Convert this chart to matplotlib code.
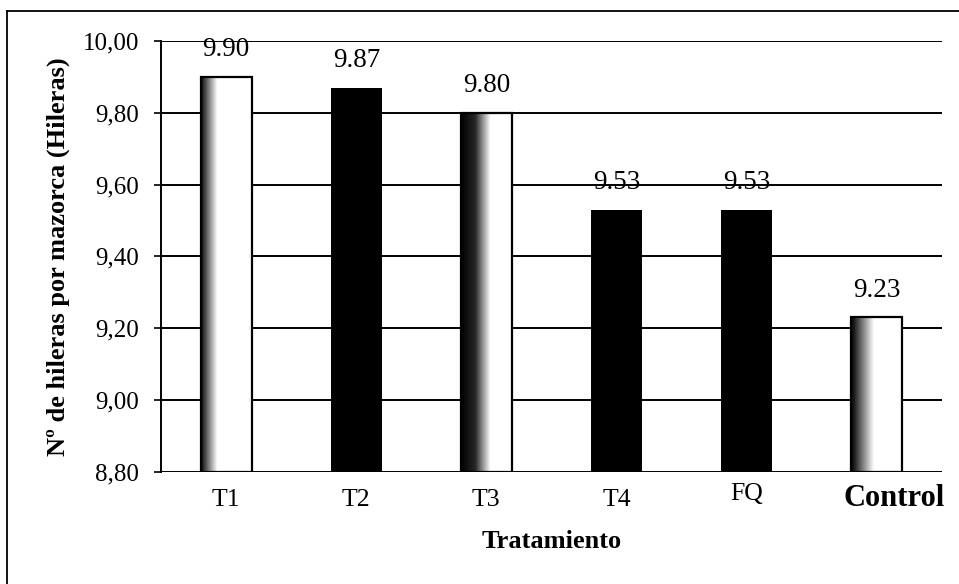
"""Nº de hileras por mazorca por tratamiento (bar chart, scanned-report look)."""

import matplotlib

matplotlib.use("Agg")
import matplotlib.pyplot as plt  # noqa: E402
import matplotlib.transforms as mtransforms  # noqa: E402
import numpy as np  # noqa: E402
from matplotlib.lines import Line2D  # noqa: E402

treatments = ["T1", "T2", "T3", "T4", "FQ", "Control"]
rows_per_ear = [9.90, 9.87, 9.80, 9.53, 9.53, 9.23]
value_labels = ["9.90", "9.87", "9.80", "9.53", "9.53", "9.23"]
y_ticks = [8.80, 9.00, 9.20, 9.40, 9.60, 9.80, 10.00]
y_tick_labels = ["8,80", "9,00", "9,20", "9,40", "9,60", "9,80", "10,00"]

# fill style per bar: None = solid black, otherwise (dark_until, white_from) fractions of width
_FILLS = [(0.04, 0.32), None, (0.28, 0.58), None, None, (0.08, 0.45)]

plt.rcParams["font.family"] = ["Liberation Serif", "DejaVu Serif"]

fig = plt.figure(figsize=(9.59, 5.84), dpi=100)
ax = fig.add_axes([0.168, 0.192, 0.814, 0.738])

ymin, ymax = y_ticks[0], y_ticks[-1]
width = 0.39
x = np.arange(len(treatments))

for yv in y_ticks:
    ax.axhline(yv, color="black", lw=1.4, zorder=1)

for xi, v, fill in zip(x, rows_per_ear, _FILLS):
    x0, x1 = xi - width / 2, xi + width / 2
    if fill is None:
        ax.bar(xi, v - ymin, bottom=ymin, width=width, color="black", zorder=2)
        continue
    face = ax.bar(xi, v - ymin, bottom=ymin, width=width, color="white", zorder=2)[0]
    u = np.linspace(0, 1, 200)
    grad = np.interp(u, [0, fill[0], fill[1], 1], [0.0, 0.15, 1.0, 1.0])
    img = ax.imshow(grad[None, :], cmap="gray", vmin=0, vmax=1, aspect="auto",
                    extent=(x0, x1, ymin, v), interpolation="bilinear", zorder=3)
    img.set_clip_path(face)
    ax.bar(xi, v - ymin, bottom=ymin, width=width, fill=False,
           edgecolor="black", lw=1.6, zorder=4)

for xi, v, lab in zip(x, rows_per_ear, value_labels):
    ax.annotate(lab, (xi, v), xytext=(0, 19.5), textcoords="offset points",
                ha="center", va="center", fontsize=19.5, zorder=5)

ax.set_xlim(-0.5, len(treatments) - 0.5)
ax.set_ylim(ymin, ymax)
ax.set_yticks(y_ticks)
ax.set_yticklabels(y_tick_labels, fontsize=18)
ax.tick_params(axis="y", direction="out", length=5, width=1.2, pad=11)
ax.set_xticks(x)
ax.set_xticklabels(treatments, fontsize=18.5)
ax.tick_params(axis="x", length=0, pad=12)
for t in ax.get_xticklabels():
    if t.get_text() == "Control":
        t.set_fontweight("bold")
        t.set_fontsize(22)
        t.set_y(0.01)
        # the scanned label sits a little right of its bar
        t.set_transform(t.get_transform()
                        + mtransforms.ScaledTranslation(0.17, 0, fig.dpi_scale_trans))
    elif t.get_text() == "FQ":
        t.set_y(0.012)

for side in ("top", "right", "bottom"):
    ax.spines[side].set_visible(False)
ax.spines["left"].set_linewidth(1.4)

ax.set_ylabel("Nº de hileras por mazorca (Hileras)", fontsize=19, fontweight="bold")
ax.yaxis.set_label_coords(-0.117, 0.5)
ax.set_xlabel("Tratamiento", fontsize=19, fontweight="bold")
ax.xaxis.set_label_coords(0.5, -0.135)

# scanned page frame: only the top and left edges show
fig.add_artist(Line2D([0.007, 1.0], [0.981, 0.981], transform=fig.transFigure,
                      color="black", lw=1.3))
fig.add_artist(Line2D([0.007, 0.007], [0.0, 0.981], transform=fig.transFigure,
                      color="black", lw=1.3))

fig.savefig("out.png", dpi=100)
plt.close(fig)
